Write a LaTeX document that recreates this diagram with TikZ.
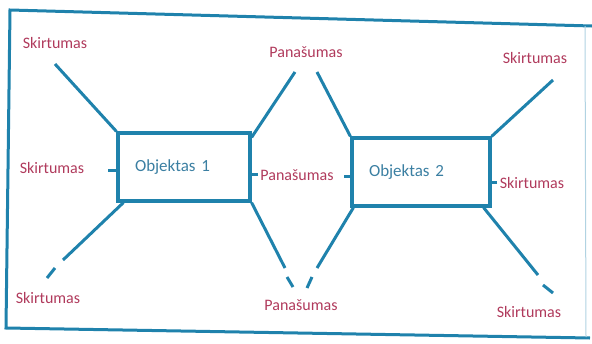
\documentclass[tikz,border=0pt]{standalone}
\usepackage{fontspec}
\setmainfont{Carlito}
\usetikzlibrary{calc}

\definecolor{lineblue}{HTML}{1F82AC}
\definecolor{labelred}{HTML}{B03A5C}
\definecolor{objblue}{HTML}{3B7FA2}

\begin{document}
\begin{tikzpicture}[x=1pt,y=-1pt,font=\fontsize{16}{18}\selectfont,
  line/.style={lineblue,line width=3pt},
  objbox/.style={draw=lineblue,line width=3.2pt,text=objblue,align=left,
                 font=\fontsize{17}{19}\selectfont,
                 inner xsep=17pt,minimum height=68pt},
  lbl/.style={text=labelred,inner sep=1pt}]

  % Page margins of the scan
  \useasboundingbox (0,0) rectangle (592,343);

  % Outer frame (slightly skewed, as scanned)
  \draw[lineblue,line width=3pt] (592,26) -- (10,10) -- (6,328) -- (590,338);
  \draw[lineblue!35,line width=1pt] (585,26) -- (586,337);

  % The two objects
  \node[objbox,text width=98pt]  (obj1) at (184,167) {Objektas 1};
  \node[objbox,text width=104pt] (obj2) at (421,172) {Objektas 2};

  % Labels: differences on the outside, similarities in the middle
  \node[lbl] (dif1) at (55,43)   {Skirtumas};
  \node[lbl] (dif2) at (52,168)  {Skirtumas};
  \node[lbl] (dif3) at (48,298)  {Skirtumas};
  \node[lbl] (sim1) at (306,52)  {Panašumas};
  \node[lbl] (sim2) at (297,175) {Panašumas};
  \node[lbl] (sim3) at (301,305) {Panašumas};
  \node[lbl] (dif4) at (535,58)  {Skirtumas};
  \node[lbl] (dif5) at (532,183) {Skirtumas};
  \node[lbl] (dif6) at (529,312) {Skirtumas};

  % Free ends of the connectors
  \coordinate (e1) at (55,64);
  \coordinate (e2) at (295,72);
  \coordinate (e3) at (317,72);
  \coordinate (e4) at (553,80);
  \coordinate (t1) at (108,170);
  \coordinate (t2) at (258,174);
  \coordinate (t3) at (344,176);
  \coordinate (t4) at (497,182);

  % Lower legs are broken by a small gap
  \coordinate (b1) at (63,260);  \coordinate (b1a) at (55,268);  \coordinate (b1b) at (47,278);
  \coordinate (b2) at (285,268); \coordinate (b2a) at (287,277); \coordinate (b2b) at (293,287);
  \coordinate (b3) at (317,268); \coordinate (b3a) at (312,277); \coordinate (b3b) at (307,288);
  \coordinate (b4) at (538,275); \coordinate (b4a) at (543,285); \coordinate (b4b) at (553,293);

  % Upper legs
  \draw[line] (obj1.north west) -- (e1);
  \draw[line] ($(obj1.north east)+(0,6)$) -- (e2);
  \draw[line] (obj2.north west) -- (e3);
  \draw[line] (obj2.north east) -- (e4);

  % Side ticks
  \draw[line] (t1) -- (t1 -| obj1.west);
  \draw[line] (t2) -- (t2 -| obj1.east);
  \draw[line] (t3) -- (t3 -| obj2.west);
  \draw[line] (t4) -- (t4 -| obj2.east);

  % Lower legs
  \draw[line] ($(obj1.south west)+(7,0)$) -- (b1);
  \draw[line] (b1a) -- (b1b);
  \draw[line] (obj1.south east) -- (b2);
  \draw[line] (b2a) -- (b2b);
  \draw[line] ($(obj2.south west)+(3,0)$) -- (b3);
  \draw[line] (b3a) -- (b3b);
  \draw[line] ($(obj2.south east)+(-8,0)$) -- (b4);
  \draw[line] (b4a) -- (b4b);

\end{tikzpicture}
\end{document}
